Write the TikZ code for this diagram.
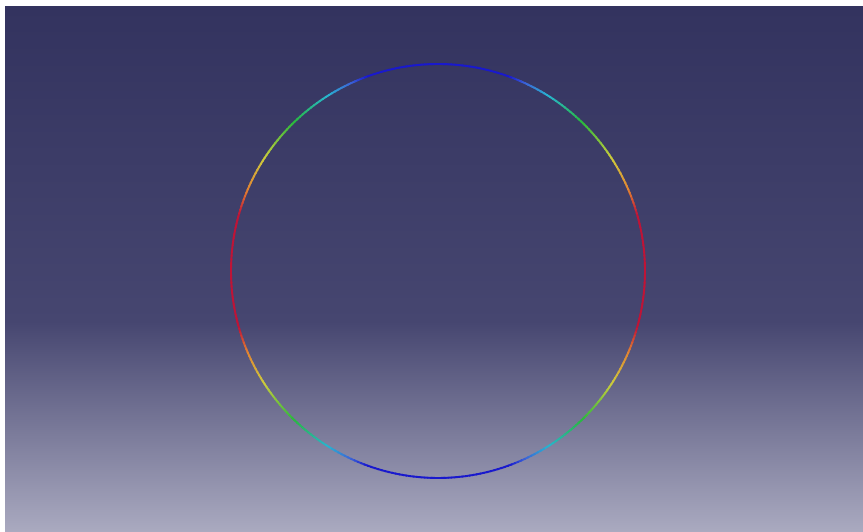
\documentclass[tikz,border=0pt]{standalone}
\usetikzlibrary{calc}
\definecolor{bgtop}{RGB}{51,51,95}
\definecolor{bgmid}{RGB}{70,70,112}
\definecolor{bgbot}{RGB}{170,170,192}
\definecolor{ringred}{RGB}{190,20,55}
\definecolor{ringorange}{RGB}{225,130,50}
\definecolor{ringyellow}{RGB}{205,205,60}
\definecolor{ringgreen}{RGB}{40,185,60}
\definecolor{ringcyan}{RGB}{40,180,210}
\definecolor{ringmid}{RGB}{60,100,215}
\definecolor{ringblue}{RGB}{25,25,205}
\begin{document}
\begin{tikzpicture}[x=1pt, y=1pt, ring/.style={line width=1.9pt}]
	\fill[white] (0,0) rectangle (863,532);
	\shade[top color=bgtop, bottom color=bgmid] (5,210) rectangle (863,525);
	\shade[top color=bgmid, bottom color=bgbot] (5,0) rectangle (863,211);
	\coordinate (O) at (438,261);
	\begin{scope}[shift={(O)}]
		\foreach \sx/\sy in {1/1,-1/1,1/-1,-1/-1}
		\foreach \from/\to/\ca/\cb in {0/16/ringred/ringred, 16/23/ringred/ringorange, 23/33/ringorange/ringyellow, 33/46/ringyellow/ringgreen, 46/58/ringgreen/ringcyan, 58/65/ringcyan/ringmid, 65/70/ringmid/ringblue, 70/90/ringblue/ringblue} {
			\pgfmathtruncatemacro\last{\to-1}
			\foreach \a in {\from,...,\last} {
				\pgfmathtruncatemacro\p{100*(\to-\a-0.5)/(\to-\from)}
				\draw[ring, \ca!\p!\cb, xscale=\sx, yscale=\sy] (\a:207) arc (\a:\a+1.4:207);
			}
		}
	\end{scope}
\end{tikzpicture}
\end{document}
